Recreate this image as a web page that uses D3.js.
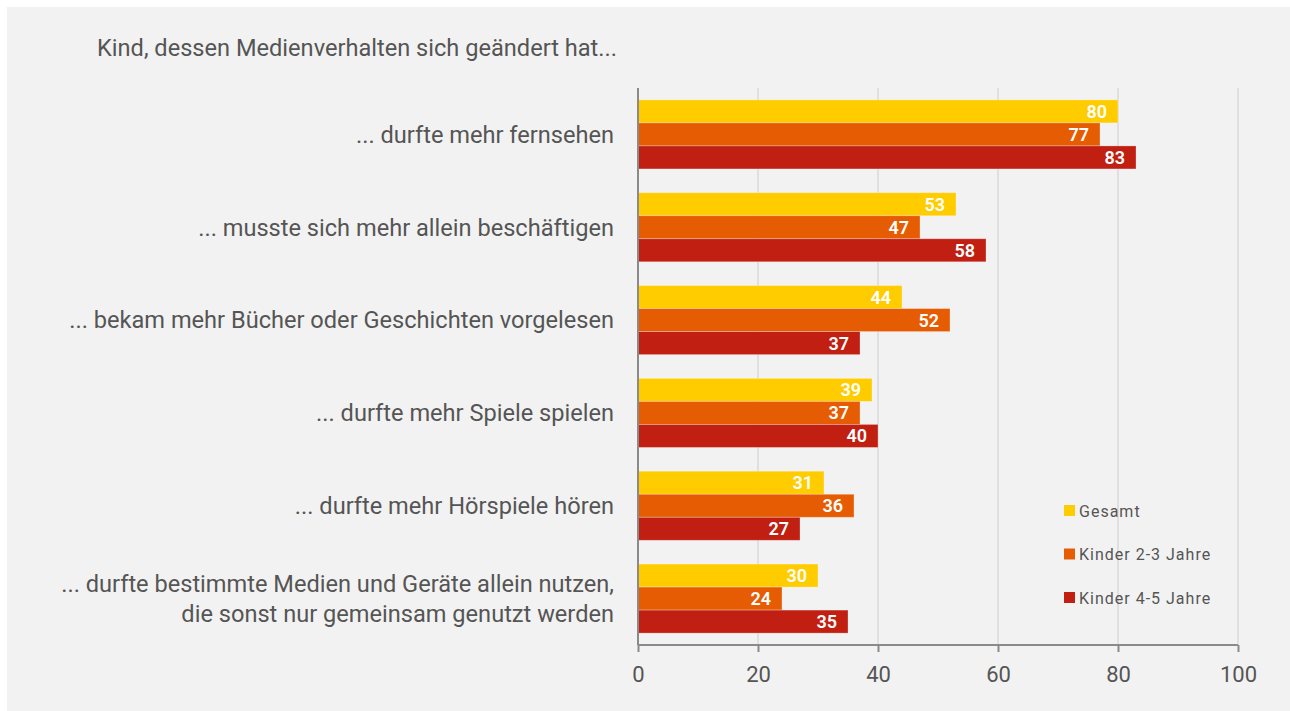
<!DOCTYPE html>
<html>
<head>
<meta charset="utf-8">
<script src="https://cdn.jsdelivr.net/npm/d3@7"></script>
<style>
  html, body { margin: 0; padding: 0; background: #ffffff; }
  svg { display: block; }
  text { font-family: "Roboto", "Open Sans", sans-serif; }
</style>
</head>
<body>
<svg id="chart" width="1290" height="711"></svg>
<script>
// Categories (top to bottom); the last one wraps onto two lines
const categories = [
  ["... durfte mehr fernsehen"],
  ["... musste sich mehr allein beschäftigen"],
  ["... bekam mehr Bücher oder Geschichten vorgelesen"],
  ["... durfte mehr Spiele spielen"],
  ["... durfte mehr Hörspiele hören"],
  ["... durfte bestimmte Medien und Geräte allein nutzen,", "die sonst nur gemeinsam genutzt werden"]
];
const seriesNames = ["Gesamt", "Kinder 2-3 Jahre", "Kinder 4-5 Jahre"];
const gesamt   = [80, 53, 44, 39, 31, 30];
const kinder23 = [77, 47, 52, 37, 36, 24];
const kinder45 = [83, 58, 37, 40, 27, 35];
const xTicks = [0, 20, 40, 60, 80, 100];
const title = "Kind, dessen Medienverhalten sich geändert hat...";

const colors = ["#ffcc00", "#e65c02", "#c01f11"];
const series = [gesamt, kinder23, kinder45];

const svg = d3.select("#chart");
const W = 1290, H = 711;

// panel background
svg.append("rect").attr("x", 7).attr("y", 7).attr("width", W - 7).attr("height", H - 7).attr("fill", "#f2f2f2");

const plot = { left: 638, right: 1238, top: 88, bottom: 645 };

const x = d3.scaleLinear().domain([0, 100]).range([plot.left, plot.right]);
const y = d3.scaleBand()
  .domain(d3.range(categories.length))
  .range([plot.top, plot.bottom])
  .paddingInner(0.256)
  .paddingOuter(0.128);
const ySub = d3.scaleBand().domain(d3.range(series.length)).range([0, y.bandwidth()]);

// vertical grid lines
svg.append("g").selectAll("line")
  .data(xTicks.filter(d => d > 0))
  .join("line")
  .attr("x1", d => x(d)).attr("x2", d => x(d))
  .attr("y1", plot.top).attr("y2", plot.bottom)
  .attr("stroke", "#d9d9d9").attr("stroke-width", 1.5);

// bars
const groups = svg.append("g").selectAll("g")
  .data(categories.map((c, i) => i))
  .join("g")
  .attr("transform", i => `translate(0,${y(i)})`);

groups.each(function(i) {
  const g = d3.select(this);
  series.forEach((s, k) => {
    const v = s[i];
    g.append("rect")
      .attr("x", x(0)).attr("y", ySub(k))
      .attr("width", x(v) - x(0)).attr("height", ySub.bandwidth())
      .attr("fill", colors[k])
      .attr("stroke", "rgba(255,255,255,0.35)").attr("stroke-width", 0.8);
    g.append("text")
      .attr("x", x(v) - 11).attr("y", ySub(k) + ySub.bandwidth() / 2)
      .attr("dy", "0.36em")
      .attr("text-anchor", "end")
      .attr("fill", "#ffffff")
      .attr("font-size", 18)
      .attr("font-weight", 600)
      .text(v);
  });
});

// category labels
const catG = svg.append("g");
categories.forEach((lines, i) => {
  const cy = y(i) + y.bandwidth() / 2;
  const lh = 30;
  const t = catG.append("text")
    .attr("text-anchor", "end")
    .attr("fill", "#555555")
    .attr("font-size", 23.6);
  lines.forEach((ln, j) => {
    t.append("tspan")
      .attr("x", 614)
      .attr("y", cy + (j - (lines.length - 1) / 2) * lh)
      .attr("dy", "0.35em")
      .text(ln);
  });
});

// left axis line
svg.append("line")
  .attr("x1", x(0)).attr("x2", x(0))
  .attr("y1", plot.top).attr("y2", plot.bottom)
  .attr("stroke", "#8a8a8a").attr("stroke-width", 2);

// bottom axis
const xAxis = svg.append("g")
  .attr("transform", `translate(0,${plot.bottom})`)
  .call(d3.axisBottom(x).tickValues(xTicks).tickSize(7).tickPadding(14).tickFormat(d3.format("d")));
xAxis.select(".domain").attr("stroke", "#8a8a8a").attr("stroke-width", 2).attr("d", `M${x(0)},0H${x(100)}`);
xAxis.selectAll(".tick line").attr("stroke", "#8a8a8a").attr("stroke-width", 2);
xAxis.selectAll(".tick text")
  .attr("fill", "#555555")
  .attr("font-size", 22)
  .attr("font-family", "Roboto, sans-serif");

// title
svg.append("text")
  .attr("x", 97).attr("y", 48).attr("dy", "0.35em")
  .attr("fill", "#555555").attr("font-size", 23.6)
  .text(title);

// legend
const legend = svg.append("g");
seriesNames.forEach((name, k) => {
  const ly = 511 + k * 43.5;
  legend.append("rect")
    .attr("x", 1064).attr("y", ly - 6).attr("width", 11).attr("height", 11)
    .attr("fill", colors[k]);
  legend.append("text")
    .attr("x", 1079).attr("y", ly).attr("dy", "0.35em")
    .attr("fill", "#555555").attr("font-size", 16)
    .attr("letter-spacing", 1)
    .text(name);
});
</script>
</body>
</html>
